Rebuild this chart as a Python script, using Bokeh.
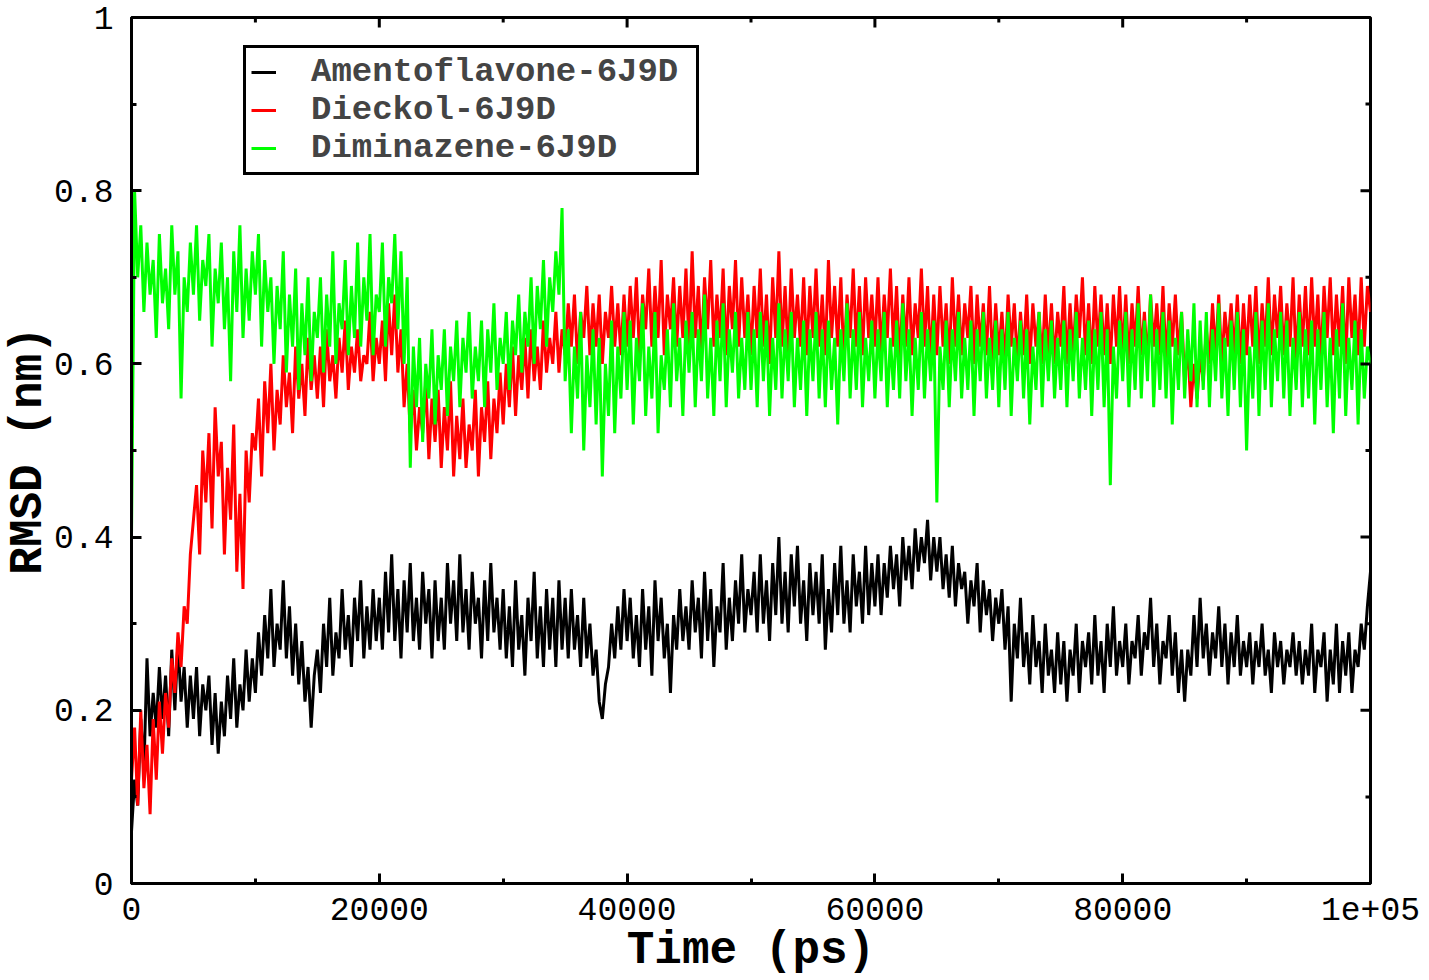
import math
from bokeh.plotting import figure
from bokeh.models import FixedTicker, Range1d, Legend, LegendItem
from bokeh.embed import file_html
from bokeh.resources import INLINE

# ---- data (RMSD in nm, sampled every 250 ps) ----
time_ps = list(range(0, 100001, 250))

amentoflavone = [
    0.06, 0.12, 0.09, 0.19, 0.13, 0.26, 0.17, 0.22, 0.18, 0.25, 0.19, 0.24, 0.17, 0.27, 0.20, 0.28, 0.21, 0.25, 0.18, 0.24,
    0.19, 0.25, 0.17, 0.23, 0.20, 0.24, 0.16, 0.22, 0.15, 0.21, 0.17, 0.24, 0.19, 0.26, 0.18, 0.23, 0.20, 0.27, 0.21, 0.26,
    0.22, 0.29, 0.24, 0.31, 0.26, 0.34, 0.25, 0.30, 0.27, 0.35, 0.26, 0.32, 0.24, 0.30, 0.23, 0.28, 0.21, 0.25, 0.18, 0.24,
    0.27, 0.22, 0.30, 0.25, 0.33, 0.24, 0.29, 0.26, 0.34, 0.27, 0.31, 0.25, 0.33, 0.28, 0.35, 0.26, 0.32, 0.27, 0.34, 0.28,
    0.33, 0.27, 0.36, 0.29, 0.38, 0.28, 0.34, 0.26, 0.35, 0.29, 0.37, 0.28, 0.33, 0.27, 0.36, 0.30, 0.34, 0.26, 0.35, 0.28,
    0.33, 0.27, 0.37, 0.30, 0.35, 0.28, 0.38, 0.29, 0.34, 0.27, 0.36, 0.30, 0.33, 0.26, 0.35, 0.28, 0.37, 0.29, 0.33, 0.27,
    0.34, 0.26, 0.32, 0.25, 0.35, 0.27, 0.31, 0.24, 0.33, 0.28, 0.36, 0.26, 0.32, 0.25, 0.34, 0.27, 0.33, 0.25, 0.35, 0.27,
    0.33, 0.26, 0.34, 0.27, 0.31, 0.25, 0.33, 0.26, 0.30, 0.24, 0.27, 0.21, 0.19, 0.23, 0.25, 0.30, 0.26, 0.32, 0.27, 0.34,
    0.28, 0.33, 0.26, 0.31, 0.25, 0.34, 0.27, 0.32, 0.24, 0.35, 0.28, 0.33, 0.26, 0.30, 0.22, 0.31, 0.27, 0.34, 0.28, 0.32,
    0.27, 0.35, 0.29, 0.33, 0.26, 0.36, 0.28, 0.34, 0.25, 0.32, 0.29, 0.37, 0.27, 0.33, 0.28, 0.35, 0.30, 0.38, 0.29, 0.34,
    0.31, 0.36, 0.29, 0.38, 0.30, 0.35, 0.28, 0.37, 0.31, 0.40, 0.30, 0.36, 0.29, 0.38, 0.32, 0.39, 0.30, 0.35, 0.28, 0.37,
    0.31, 0.36, 0.30, 0.38, 0.27, 0.34, 0.29, 0.37, 0.31, 0.39, 0.30, 0.35, 0.29, 0.38, 0.32, 0.36, 0.30, 0.39, 0.31, 0.37,
    0.32, 0.38, 0.31, 0.37, 0.33, 0.39, 0.34, 0.38, 0.32, 0.40, 0.35, 0.39, 0.34, 0.41, 0.36, 0.40, 0.37, 0.42, 0.35, 0.40,
    0.36, 0.40, 0.34, 0.38, 0.33, 0.39, 0.32, 0.37, 0.34, 0.36, 0.30, 0.35, 0.32, 0.37, 0.29, 0.35, 0.31, 0.34, 0.28, 0.33,
    0.30, 0.34, 0.27, 0.32, 0.21, 0.30, 0.26, 0.33, 0.25, 0.29, 0.23, 0.31, 0.25, 0.28, 0.22, 0.30, 0.24, 0.27, 0.22, 0.29,
    0.23, 0.28, 0.21, 0.27, 0.24, 0.30, 0.22, 0.28, 0.25, 0.29, 0.23, 0.31, 0.24, 0.28, 0.22, 0.30, 0.25, 0.32, 0.24, 0.28,
    0.25, 0.30, 0.23, 0.28, 0.26, 0.31, 0.24, 0.29, 0.27, 0.33, 0.25, 0.30, 0.23, 0.28, 0.26, 0.31, 0.24, 0.29, 0.22, 0.27,
    0.21, 0.27, 0.24, 0.31, 0.25, 0.33, 0.26, 0.30, 0.24, 0.29, 0.26, 0.32, 0.25, 0.30, 0.23, 0.29, 0.25, 0.31, 0.24, 0.28,
    0.25, 0.29, 0.23, 0.28, 0.25, 0.30, 0.24, 0.27, 0.22, 0.29, 0.25, 0.28, 0.23, 0.27, 0.25, 0.29, 0.24, 0.28, 0.23, 0.27,
    0.24, 0.30, 0.22, 0.27, 0.25, 0.29, 0.21, 0.27, 0.23, 0.30, 0.22, 0.28, 0.24, 0.29, 0.22, 0.27, 0.25, 0.30, 0.27, 0.32,
    0.36,
]

dieckol = [
    0.12, 0.18, 0.09, 0.20, 0.11, 0.16, 0.08, 0.19, 0.12, 0.21, 0.15, 0.22, 0.18, 0.26, 0.22, 0.29, 0.25, 0.32, 0.30, 0.38,
    0.42, 0.46, 0.38, 0.50, 0.44, 0.52, 0.41, 0.55, 0.47, 0.51, 0.38, 0.48, 0.42, 0.53, 0.36, 0.45, 0.34, 0.50, 0.44, 0.52,
    0.50, 0.56, 0.47, 0.58, 0.52, 0.60, 0.50, 0.57, 0.53, 0.61, 0.55, 0.59, 0.52, 0.62, 0.56, 0.60, 0.54, 0.63, 0.57, 0.61,
    0.56, 0.62, 0.55, 0.64, 0.58, 0.61, 0.56, 0.63, 0.59, 0.65, 0.57, 0.62, 0.59, 0.64, 0.58, 0.61, 0.60, 0.66, 0.58, 0.63,
    0.60, 0.65, 0.58, 0.67, 0.61, 0.68, 0.59, 0.64, 0.55, 0.60, 0.52, 0.57, 0.50, 0.55, 0.52, 0.58, 0.49, 0.56, 0.51, 0.57,
    0.48, 0.55, 0.50, 0.58, 0.47, 0.54, 0.49, 0.56, 0.48, 0.53, 0.50, 0.57, 0.47, 0.55, 0.51, 0.58, 0.49, 0.56, 0.52, 0.59,
    0.53, 0.60, 0.55, 0.62, 0.54, 0.61, 0.57, 0.63, 0.56, 0.64, 0.58, 0.62, 0.57, 0.65, 0.59, 0.63, 0.60, 0.66, 0.59, 0.64,
    0.61, 0.67, 0.62, 0.68, 0.60, 0.66, 0.63, 0.69, 0.61, 0.67, 0.62, 0.68, 0.60, 0.66, 0.63, 0.69, 0.62, 0.67, 0.61, 0.68,
    0.62, 0.69, 0.63, 0.70, 0.61, 0.68, 0.64, 0.71, 0.62, 0.69, 0.63, 0.72, 0.61, 0.68, 0.64, 0.70, 0.62, 0.69, 0.63, 0.71,
    0.62, 0.73, 0.63, 0.69, 0.61, 0.70, 0.64, 0.72, 0.62, 0.68, 0.63, 0.71, 0.61, 0.69, 0.64, 0.72, 0.62, 0.70, 0.63, 0.68,
    0.61, 0.69, 0.63, 0.71, 0.62, 0.68, 0.60, 0.70, 0.63, 0.73, 0.62, 0.69, 0.61, 0.71, 0.63, 0.68, 0.62, 0.70, 0.61, 0.69,
    0.63, 0.71, 0.62, 0.68, 0.61, 0.72, 0.63, 0.69, 0.62, 0.70, 0.60, 0.68, 0.63, 0.71, 0.62, 0.69, 0.61, 0.70, 0.63, 0.68,
    0.62, 0.70, 0.61, 0.68, 0.63, 0.71, 0.62, 0.69, 0.60, 0.68, 0.62, 0.70, 0.61, 0.67, 0.63, 0.71, 0.62, 0.69, 0.60, 0.68,
    0.61, 0.69, 0.62, 0.67, 0.60, 0.70, 0.62, 0.68, 0.61, 0.67, 0.63, 0.69, 0.60, 0.68, 0.62, 0.67, 0.61, 0.69, 0.60, 0.67,
    0.61, 0.66, 0.60, 0.68, 0.62, 0.67, 0.60, 0.66, 0.61, 0.68, 0.60, 0.67, 0.62, 0.66, 0.60, 0.68, 0.61, 0.67, 0.60, 0.66,
    0.62, 0.69, 0.60, 0.67, 0.61, 0.68, 0.63, 0.70, 0.61, 0.67, 0.60, 0.69, 0.62, 0.68, 0.61, 0.67, 0.60, 0.68, 0.62, 0.69,
    0.61, 0.68, 0.60, 0.67, 0.62, 0.69, 0.61, 0.66, 0.60, 0.68, 0.62, 0.67, 0.61, 0.69, 0.60, 0.67, 0.62, 0.68, 0.61, 0.66,
    0.58, 0.62, 0.55, 0.60, 0.56, 0.61, 0.58, 0.64, 0.60, 0.67, 0.61, 0.68, 0.60, 0.66, 0.62, 0.67, 0.61, 0.68, 0.60, 0.67,
    0.61, 0.68, 0.62, 0.69, 0.60, 0.67, 0.62, 0.70, 0.61, 0.68, 0.63, 0.69, 0.61, 0.67, 0.62, 0.70, 0.60, 0.68, 0.62, 0.69,
    0.61, 0.70, 0.62, 0.68, 0.60, 0.69, 0.63, 0.70, 0.61, 0.68, 0.62, 0.69, 0.60, 0.70, 0.63, 0.68, 0.61, 0.70, 0.62, 0.69,
    0.66,
]

diminazene = [
    0.40, 0.80, 0.70, 0.76, 0.66, 0.74, 0.68, 0.72, 0.63, 0.75, 0.67, 0.71, 0.64, 0.76, 0.68, 0.73, 0.56, 0.70, 0.66, 0.74,
    0.68, 0.76, 0.65, 0.72, 0.69, 0.75, 0.62, 0.71, 0.67, 0.74, 0.64, 0.70, 0.58, 0.73, 0.66, 0.76, 0.63, 0.71, 0.65, 0.73,
    0.68, 0.75, 0.62, 0.72, 0.66, 0.70, 0.60, 0.69, 0.64, 0.73, 0.59, 0.68, 0.62, 0.71, 0.57, 0.67, 0.61, 0.70, 0.58, 0.66,
    0.63, 0.70, 0.59, 0.68, 0.62, 0.73, 0.60, 0.67, 0.64, 0.72, 0.61, 0.69, 0.63, 0.74, 0.62, 0.70, 0.65, 0.75, 0.61, 0.68,
    0.66, 0.74, 0.62, 0.70, 0.67, 0.75, 0.64, 0.73, 0.60, 0.70, 0.48, 0.62, 0.55, 0.63, 0.51, 0.60, 0.56, 0.64, 0.53, 0.61,
    0.57, 0.64, 0.54, 0.62, 0.58, 0.65, 0.55, 0.63, 0.59, 0.66, 0.56, 0.62, 0.58, 0.65, 0.55, 0.64, 0.59, 0.67, 0.57, 0.63,
    0.60, 0.66, 0.57, 0.65, 0.61, 0.68, 0.59, 0.66, 0.62, 0.70, 0.60, 0.69, 0.64, 0.72, 0.62, 0.70, 0.66, 0.73, 0.68, 0.78,
    0.58, 0.64, 0.52, 0.62, 0.56, 0.66, 0.50, 0.61, 0.55, 0.64, 0.53, 0.63, 0.47, 0.60, 0.54, 0.65, 0.52, 0.62, 0.56, 0.66,
    0.57, 0.65, 0.53, 0.63, 0.58, 0.67, 0.54, 0.62, 0.56, 0.66, 0.52, 0.61, 0.57, 0.64, 0.55, 0.67, 0.58, 0.63, 0.54, 0.65,
    0.59, 0.66, 0.55, 0.64, 0.58, 0.68, 0.56, 0.63, 0.54, 0.65, 0.58, 0.67, 0.55, 0.64, 0.59, 0.66, 0.56, 0.63, 0.57, 0.66,
    0.57, 0.64, 0.55, 0.66, 0.58, 0.65, 0.54, 0.63, 0.57, 0.67, 0.56, 0.64, 0.58, 0.66, 0.55, 0.63, 0.57, 0.65, 0.54, 0.64,
    0.58, 0.66, 0.56, 0.64, 0.55, 0.65, 0.57, 0.63, 0.53, 0.64, 0.58, 0.67, 0.56, 0.64, 0.57, 0.66, 0.55, 0.63, 0.58, 0.65,
    0.56, 0.64, 0.58, 0.66, 0.55, 0.63, 0.57, 0.65, 0.56, 0.67, 0.58, 0.64, 0.54, 0.63, 0.57, 0.66, 0.56, 0.64, 0.58, 0.65,
    0.44, 0.62, 0.57, 0.65, 0.55, 0.64, 0.58, 0.66, 0.56, 0.63, 0.57, 0.65, 0.54, 0.64, 0.58, 0.66, 0.56, 0.63, 0.57, 0.65,
    0.55, 0.64, 0.57, 0.66, 0.54, 0.63, 0.58, 0.65, 0.56, 0.64, 0.53, 0.62, 0.57, 0.66, 0.55, 0.64, 0.58, 0.65, 0.56, 0.63,
    0.57, 0.65, 0.55, 0.64, 0.58, 0.66, 0.56, 0.63, 0.57, 0.65, 0.54, 0.64, 0.57, 0.66, 0.55, 0.64, 0.46, 0.62, 0.56, 0.65,
    0.58, 0.66, 0.55, 0.64, 0.57, 0.67, 0.56, 0.65, 0.58, 0.68, 0.55, 0.64, 0.57, 0.66, 0.56, 0.65, 0.53, 0.63, 0.57, 0.66,
    0.56, 0.64, 0.58, 0.67, 0.55, 0.65, 0.57, 0.66, 0.55, 0.64, 0.58, 0.67, 0.56, 0.63, 0.54, 0.65, 0.57, 0.66, 0.55, 0.64,
    0.50, 0.62, 0.56, 0.66, 0.54, 0.65, 0.57, 0.67, 0.55, 0.64, 0.58, 0.66, 0.56, 0.65, 0.54, 0.63, 0.57, 0.66, 0.55, 0.64,
    0.56, 0.65, 0.53, 0.64, 0.57, 0.66, 0.55, 0.63, 0.52, 0.64, 0.56, 0.67, 0.54, 0.63, 0.57, 0.65, 0.53, 0.64, 0.56, 0.62,
    0.60,
]

series_names = ["Amentoflavone-6J9D", "Dieckol-6J9D", "Diminazene-6J9D"]
series_colors = ["#000000", "#ff0000", "#00ff00"]

x_ticks = [0, 20000, 40000, 60000, 80000, 100000]
x_minor = [10000, 30000, 50000, 70000, 90000]
x_labels = {0: "0", 20000: "20000", 40000: "40000", 60000: "60000", 80000: "80000", 100000: "1e+05"}
y_ticks = [0, 0.2, 0.4, 0.6, 0.8, 1]
y_minor = [0.1, 0.3, 0.5, 0.7, 0.9]
y_labels = {0: "0", 0.2: "0.2", 0.4: "0.4", 0.6: "0.6", 0.8: "0.8", 1: "1"}

FONT = "Liberation Mono"
X0, X1, Y0, Y1 = 0, 100000, 0, 1

p = figure(width=1429, height=979, output_backend="svg", toolbar_location=None,
           x_range=Range1d(X0, X1), y_range=Range1d(Y0, Y1),
           min_border_left=131, min_border_right=59, min_border_top=17, min_border_bottom=95)
p.xgrid.visible = False
p.ygrid.visible = False
p.outline_line_color = "black"
p.outline_line_width = 3

renderers = []
for ys, c in zip([amentoflavone, dieckol, diminazene], series_colors):
    r = p.line(time_ps, ys, line_color=c, line_width=3)
    renderers.append(r)

# mirrored inward ticks on the top and right edges of the frame
p.scatter(x_ticks, [Y1] * len(x_ticks), marker="dash", size=20, angle=math.pi / 2,
          line_color="black", line_width=3)
p.scatter(x_minor, [Y1] * len(x_minor), marker="dash", size=10, angle=math.pi / 2,
          line_color="black", line_width=3)
p.scatter([X1] * len(y_ticks), y_ticks, marker="dash", size=20,
          line_color="black", line_width=3)
p.scatter([X1] * len(y_minor), y_minor, marker="dash", size=10,
          line_color="black", line_width=3)

def style_axis(ax, ticks, minor, labels):
    ax.ticker = FixedTicker(ticks=ticks, minor_ticks=minor)
    ax.major_label_overrides = labels
    ax.axis_line_width = 3
    ax.axis_line_color = "black"
    ax.major_tick_in = 10
    ax.major_tick_out = 0
    ax.minor_tick_in = 5
    ax.minor_tick_out = 0
    ax.major_tick_line_width = 3
    ax.minor_tick_line_width = 3
    ax.major_label_text_font = FONT
    ax.major_label_text_font_size = "33px"
    ax.major_label_text_color = "black"
    ax.axis_label_text_font = FONT
    ax.axis_label_text_font_style = "bold"
    ax.axis_label_text_font_size = "46px"
    ax.axis_label_text_color = "black"

xb = p.xaxis[0]
style_axis(xb, x_ticks, x_minor, x_labels)
xb.axis_label = "Time (ps)"
xb.major_label_standoff = 14
xb.axis_label_standoff = 2

yl = p.yaxis[0]
style_axis(yl, y_ticks, y_minor, y_labels)
yl.axis_label = "RMSD (nm)"
yl.major_label_standoff = 18
yl.axis_label_standoff = -4

legend = Legend(items=[LegendItem(label=n, renderers=[r]) for n, r in zip(series_names, renderers)],
                location=(112, 708))
legend.label_text_font = FONT
legend.label_text_font_style = "bold"
legend.label_text_font_size = "34px"
legend.glyph_width = 25
legend.label_standoff = 35
legend.label_width = 380
legend.padding = 5
legend.spacing = -10
legend.border_line_color = "black"
legend.border_line_alpha = 1
legend.border_line_width = 3
legend.background_fill_alpha = 1
legend.margin = 0
p.add_layout(legend)

open("out.html", "w").write(file_html(p, INLINE))
